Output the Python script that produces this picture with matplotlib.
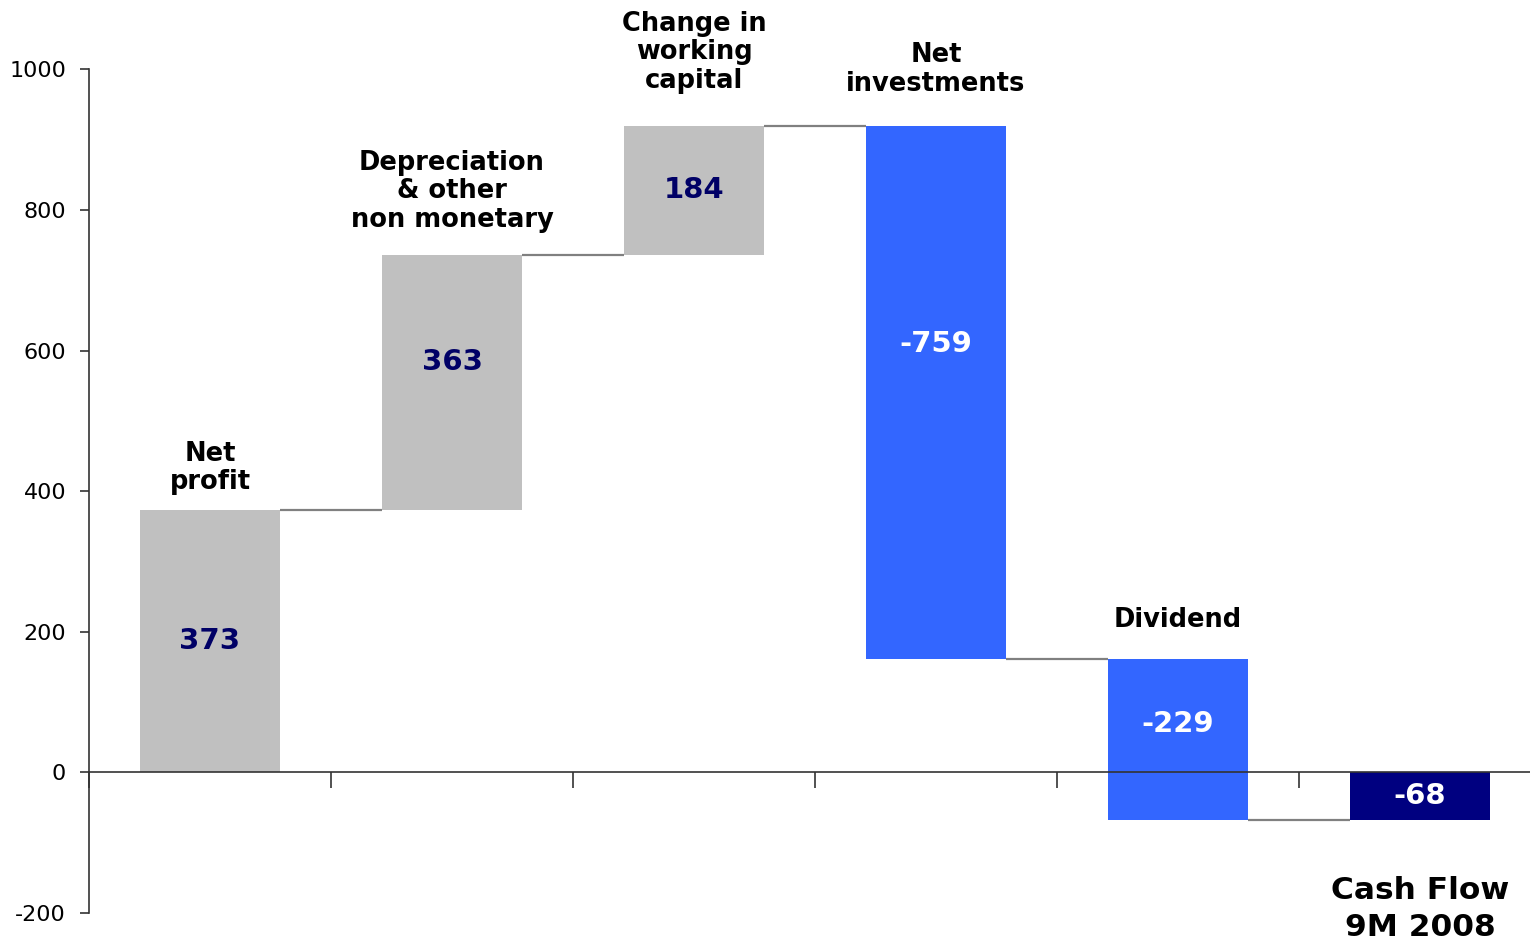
import matplotlib
matplotlib.use("Agg")
import matplotlib.pyplot as plt
import numpy as np

# data
categories = ["Net\nprofit", "Depreciation\n& other\nnon monetary", "Change in\nworking\ncapital",
              "Net\ninvestments", "Dividend", "Cash Flow\n9M 2008"]
values = [373, 363, 184, -759, -229, -68]
is_total = [False, False, False, False, False, True]

# style
bar_colors = ["#C0C0C0", "#C0C0C0", "#C0C0C0", "#3366FF", "#3366FF", "#000080"]
value_colors = ["#000066", "#000066", "#000066", "white", "white", "white"]
value_frac = [0.5, 0.42, 0.5, 0.41, 0.40, 0.5]   # label height within bar, from top
label_gap = [11, 16, 23, 21, 19]                  # points above bar top

plt.rcParams["font.family"] = "DejaVu Sans"

fig = plt.figure(figsize=(15.3, 9.44), dpi=100)
ax = fig.add_axes([89 / 1530, 31 / 944, 1452 / 1530, 843.5 / 944])

x = np.arange(len(values))
bottoms = []
tops = []
running = 0
for v, tot in zip(values, is_total):
    if tot:
        bottoms.append(0)
        tops.append(v)
    else:
        bottoms.append(running)
        running += v
        tops.append(running)
bottoms = np.array(bottoms)
heights = np.array(tops) - bottoms

bw = 0.578
ax.bar(x, heights, bottom=bottoms, width=bw, color=bar_colors, edgecolor="none", zorder=2)

# connectors
for i in range(len(values) - 1):
    level = tops[i]
    ax.plot([x[i] + bw / 2, x[i + 1] - bw / 2], [level, level],
            color="#808080", lw=1.6, zorder=1, solid_capstyle="butt")

# value labels inside bars
for i, v in enumerate(values):
    hi = max(tops[i], bottoms[i])
    ypos = hi - value_frac[i] * abs(heights[i])
    ax.text(x[i], ypos, f"{v}", ha="center", va="center", fontsize=21,
            fontweight="bold", color=value_colors[i], zorder=3)

# category labels
for i, lab in enumerate(categories):
    if is_total[i]:
        ax.annotate(lab, (x[i], min(tops[i], bottoms[i])), xytext=(0, -40),
                    textcoords="offset points", ha="center", va="top",
                    fontsize=22.5, fontweight="bold", linespacing=1.35,
                    annotation_clip=False)
    else:
        ax.annotate(lab, (x[i], max(tops[i], bottoms[i])), xytext=(0, label_gap[i]),
                    textcoords="offset points", ha="center", va="bottom",
                    fontsize=18.5, fontweight="bold", linespacing=1.12,
                    annotation_clip=False)

ax.set_xlim(-0.5, len(values) - 0.5)
ax.set_ylim(-200, 1000)
ax.set_yticks([-200, 0, 200, 400, 600, 800, 1000])
ax.set_yticklabels(["-200", "0", "200", "400", "600", "800", "1000"], fontsize=16)
ax.set_xticks(np.arange(len(values)) - 0.5)
ax.set_xticklabels([])

ax.spines["top"].set_visible(False)
ax.spines["right"].set_visible(False)
ax.spines["bottom"].set_position(("data", 0))
for s in ("left", "bottom"):
    ax.spines[s].set_color("#333333")
    ax.spines[s].set_linewidth(1.2)
ax.tick_params(axis="y", direction="out", length=6.5, width=1.2, color="#333333", pad=10)
ax.tick_params(axis="x", direction="out", length=11.5, width=1.2, color="#333333")

fig.savefig("out.png", dpi=100)
